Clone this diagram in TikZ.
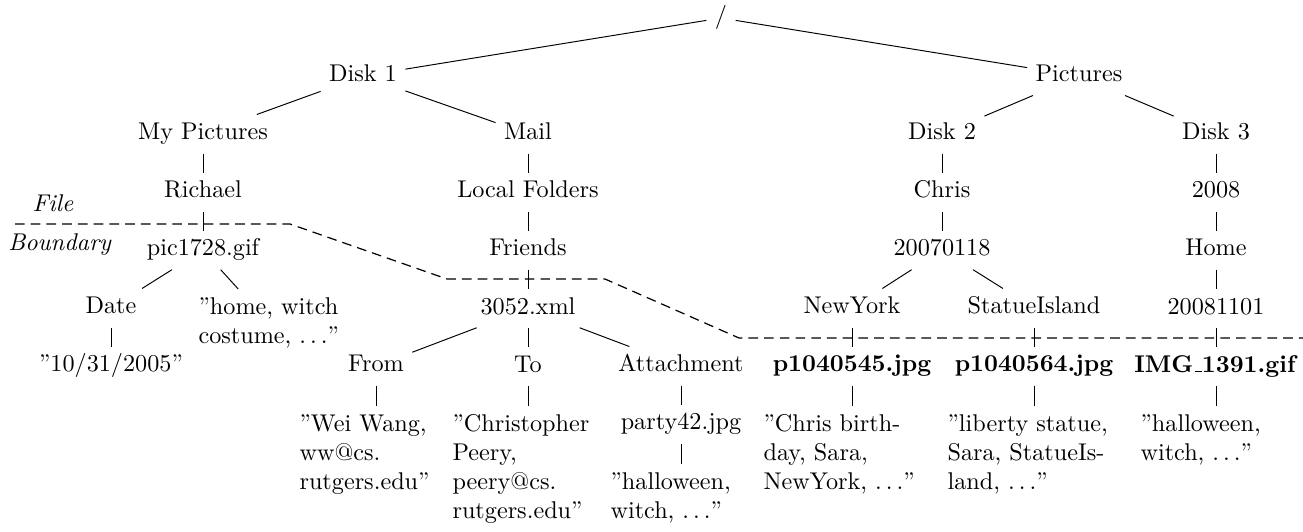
\documentclass[tikz,border=0pt]{standalone}

\tikzset{
  folder/.style={text height=1.6ex, text depth=.5ex},
  meta/.style={align=left, anchor=north west},
  boundary/.style={dash pattern=on 4pt off 2.5pt, line width=.5pt},
}

\begin{document}
\begin{tikzpicture}[x=0.4132pt, y=-0.4132pt, node distance=24pt]
        \useasboundingbox (0,0) rectangle (1303,531);

        % directory part
        \node[folder] (root) at (721,18) {/};
        \node[folder] (disk1) at (363,76) {Disk 1};
        \node[folder] (pics) at (1079,76) {Pictures};

        \node[folder] (mypics) at (203,134) {My Pictures};
        \node[folder, below of=mypics] (richael) {Richael};
        \node[folder, below of=richael] (pic) {pic1728.gif};

        \node[folder] (mail) at (528,134) {Mail};
        \node[folder, below of=mail] (local) {Local Folders};
        \node[folder, below of=local] (friends) {Friends};
        \node[folder, below of=friends] (xml) {3052.xml};
        \node[folder, below of=xml] (to) {To};

        \node[folder] (disk2) at (942,134) {Disk 2};
        \node[folder, below of=disk2] (chris) {Chris};
        \node[folder, below of=chris] (day) {20070118};

        \node[folder] (disk3) at (1216,134) {Disk 3};
        \node[folder, below of=disk3] (year) {2008};
        \node[folder, below of=year] (home) {Home};
        \node[folder, below of=home] (day2) {20081101};
        \node[folder, below of=day2] (imgc) {\textbf{IMG\kern.06em\vbox{\hrule width.3em}1391.gif}};

        % file part
        \node[folder] (date) at (111,308) {Date};
        \node[folder, below of=date] (dateval) {”10/31/2005”};
        \node[meta] (homewitch) at (190,289) {”home, witch\\costume, $\ldots$”};

        \node[folder] (ny) at (852,308) {NewYork};
        \node[folder, below of=ny] (imga) {\textbf{p1040545.jpg}};
        \node[folder] (statue) at (1034,308) {StatueIsland};
        \node[folder, below of=statue] (imgb) {\textbf{p1040564.jpg}};

        \node[folder] (from) at (376,366) {From};
        \node[folder] (attach) at (681,366) {Attachment};
        \node[folder, below of=attach] (party) {party42.jpg};

        \node[meta] (fromval) at (291,406) {”Wei Wang,\\ww@cs.\\rutgers.edu”};
        \node[meta] (toval) at (444,406) {”Christopher\\Peery,\\peery@cs.\\rutgers.edu”};
        \node[meta] (partyval) at (602,464) {”halloween,\\witch, $\ldots$”};
        \node[meta] (imgaval) at (755,406) {”Chris birth-\\day, Sara,\\NewYork, $\ldots$”};
        \node[meta] (imgbval) at (939,406) {”liberty statue,\\Sara, StatueIs-\\land, $\ldots$”};
        \node[meta] (imgcval) at (1132,406) {”halloween,\\witch, $\ldots$”};

        \foreach \a/\b in {root/disk1, root/pics, disk1/mypics, disk1/mail, pics/disk2, pics/disk3,
                mypics/richael, richael/pic, pic/date, pic/homewitch, date/dateval,
                mail/local, local/friends, friends/xml, xml/from, xml/to, xml/attach, attach/party,
                disk2/chris, chris/day, day/ny, day/statue, ny/imga, statue/imgb,
                disk3/year, year/home, home/day2, day2/imgc}
            \draw (\a) -- (\b);
        \foreach \a/\b in {from/fromval, to/toval, party/partyval, imga/imgaval, imgb/imgbval, imgc/imgcval}
            \draw (\a) -- (\a |- \b.north);

        % file boundary
        \node (file) at (53,203) {\textit{File}};
        \node (bound) at (60,245) {\textit{Boundary}};
        \draw[boundary] (15,224) -- (290,224) -- (447,279) -- (605,279) -- (739,338) -- (1303,338);
\end{tikzpicture}
\end{document}
